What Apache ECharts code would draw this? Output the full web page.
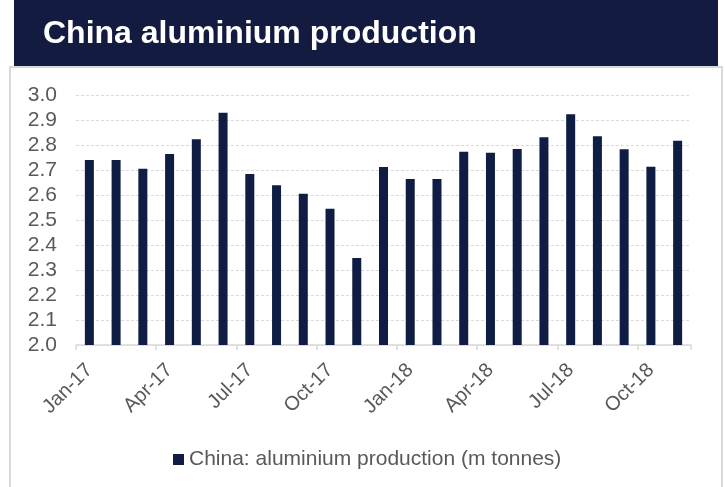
<!DOCTYPE html>
<html>
<head>
<meta charset="utf-8">
<script src="https://cdn.jsdelivr.net/npm/echarts@6/dist/echarts.min.js"></script>
<style>
html,body{margin:0;padding:0;background:#fff;}
#c{width:725px;height:487px;}
</style>
</head>
<body>
<div id="c"></div>
<script>
const titleText = 'China aluminium production';
const seriesName = 'China: aluminium production (m tonnes)';
const months = ['Jan-17','Feb-17','Mar-17','Apr-17','May-17','Jun-17','Jul-17','Aug-17','Sep-17','Oct-17','Nov-17','Dec-17',
                'Jan-18','Feb-18','Mar-18','Apr-18','May-18','Jun-18','Jul-18','Aug-18','Sep-18','Oct-18','Nov-18'];
const production = [2.74,2.74,2.705,2.764,2.823,2.929,2.684,2.639,2.605,2.545,2.348,2.712,
                    2.664,2.664,2.773,2.769,2.784,2.831,2.923,2.835,2.783,2.713,2.817];
const yMin = 2.0, yMax = 3.0, yStep = 0.1;

const FONT = '"Liberation Sans", Arial, sans-serif';
const chart = echarts.init(document.getElementById('c'), null, {renderer:'canvas'});
chart.setOption({
  animation:false,
  backgroundColor:'#fff',
  graphic:[
    {type:'rect', left:14, top:0, shape:{width:704, height:66}, style:{fill:'#131C40'}, z:0},
    {type:'rect', shape:{x:10, y:67, width:712, height:440}, style:{fill:'none', stroke:'#D9D9D9', lineWidth:2}, z:0},
    {type:'text', x:43, y:34, style:{text:titleText, fill:'#fff', font:'bold 32px '+FONT, verticalAlign:'middle', align:'left'}, z:5}
  ],
  grid:{left:76, right:34, top:95, bottom:142, containLabel:false},
  legend:{
    data:[seriesName], left:168, top:444, itemWidth:11, itemHeight:11, itemGap:5,
    icon:'rect',
    textStyle:{color:'#595959', fontSize:21, fontFamily:FONT}
  },
  xAxis:{
    type:'category', data:months, boundaryGap:true,
    axisLine:{show:true, lineStyle:{color:'#D9D9D9', width:1.5}},
    axisTick:{show:true, interval:2, length:5, lineStyle:{color:'#D9D9D9', width:1.5}},
    axisLabel:{interval:2, rotate:45, color:'#595959', fontSize:20, fontFamily:FONT, margin:22}
  },
  yAxis:{
    type:'value', min:yMin, max:yMax, interval:yStep,
    axisLine:{show:false}, axisTick:{show:false},
    splitLine:{show:true, lineStyle:{color:'#D9D9D9', type:[3,2], width:1}},
    axisLabel:{color:'#595959', fontSize:21, fontFamily:FONT, margin:19, formatter:v=>v.toFixed(1)}
  },
  series:[{
    name:seriesName, type:'bar', data:production, barWidth:9,
    itemStyle:{color:'#0F1D44'}
  }]
});
</script>
</body>
</html>
